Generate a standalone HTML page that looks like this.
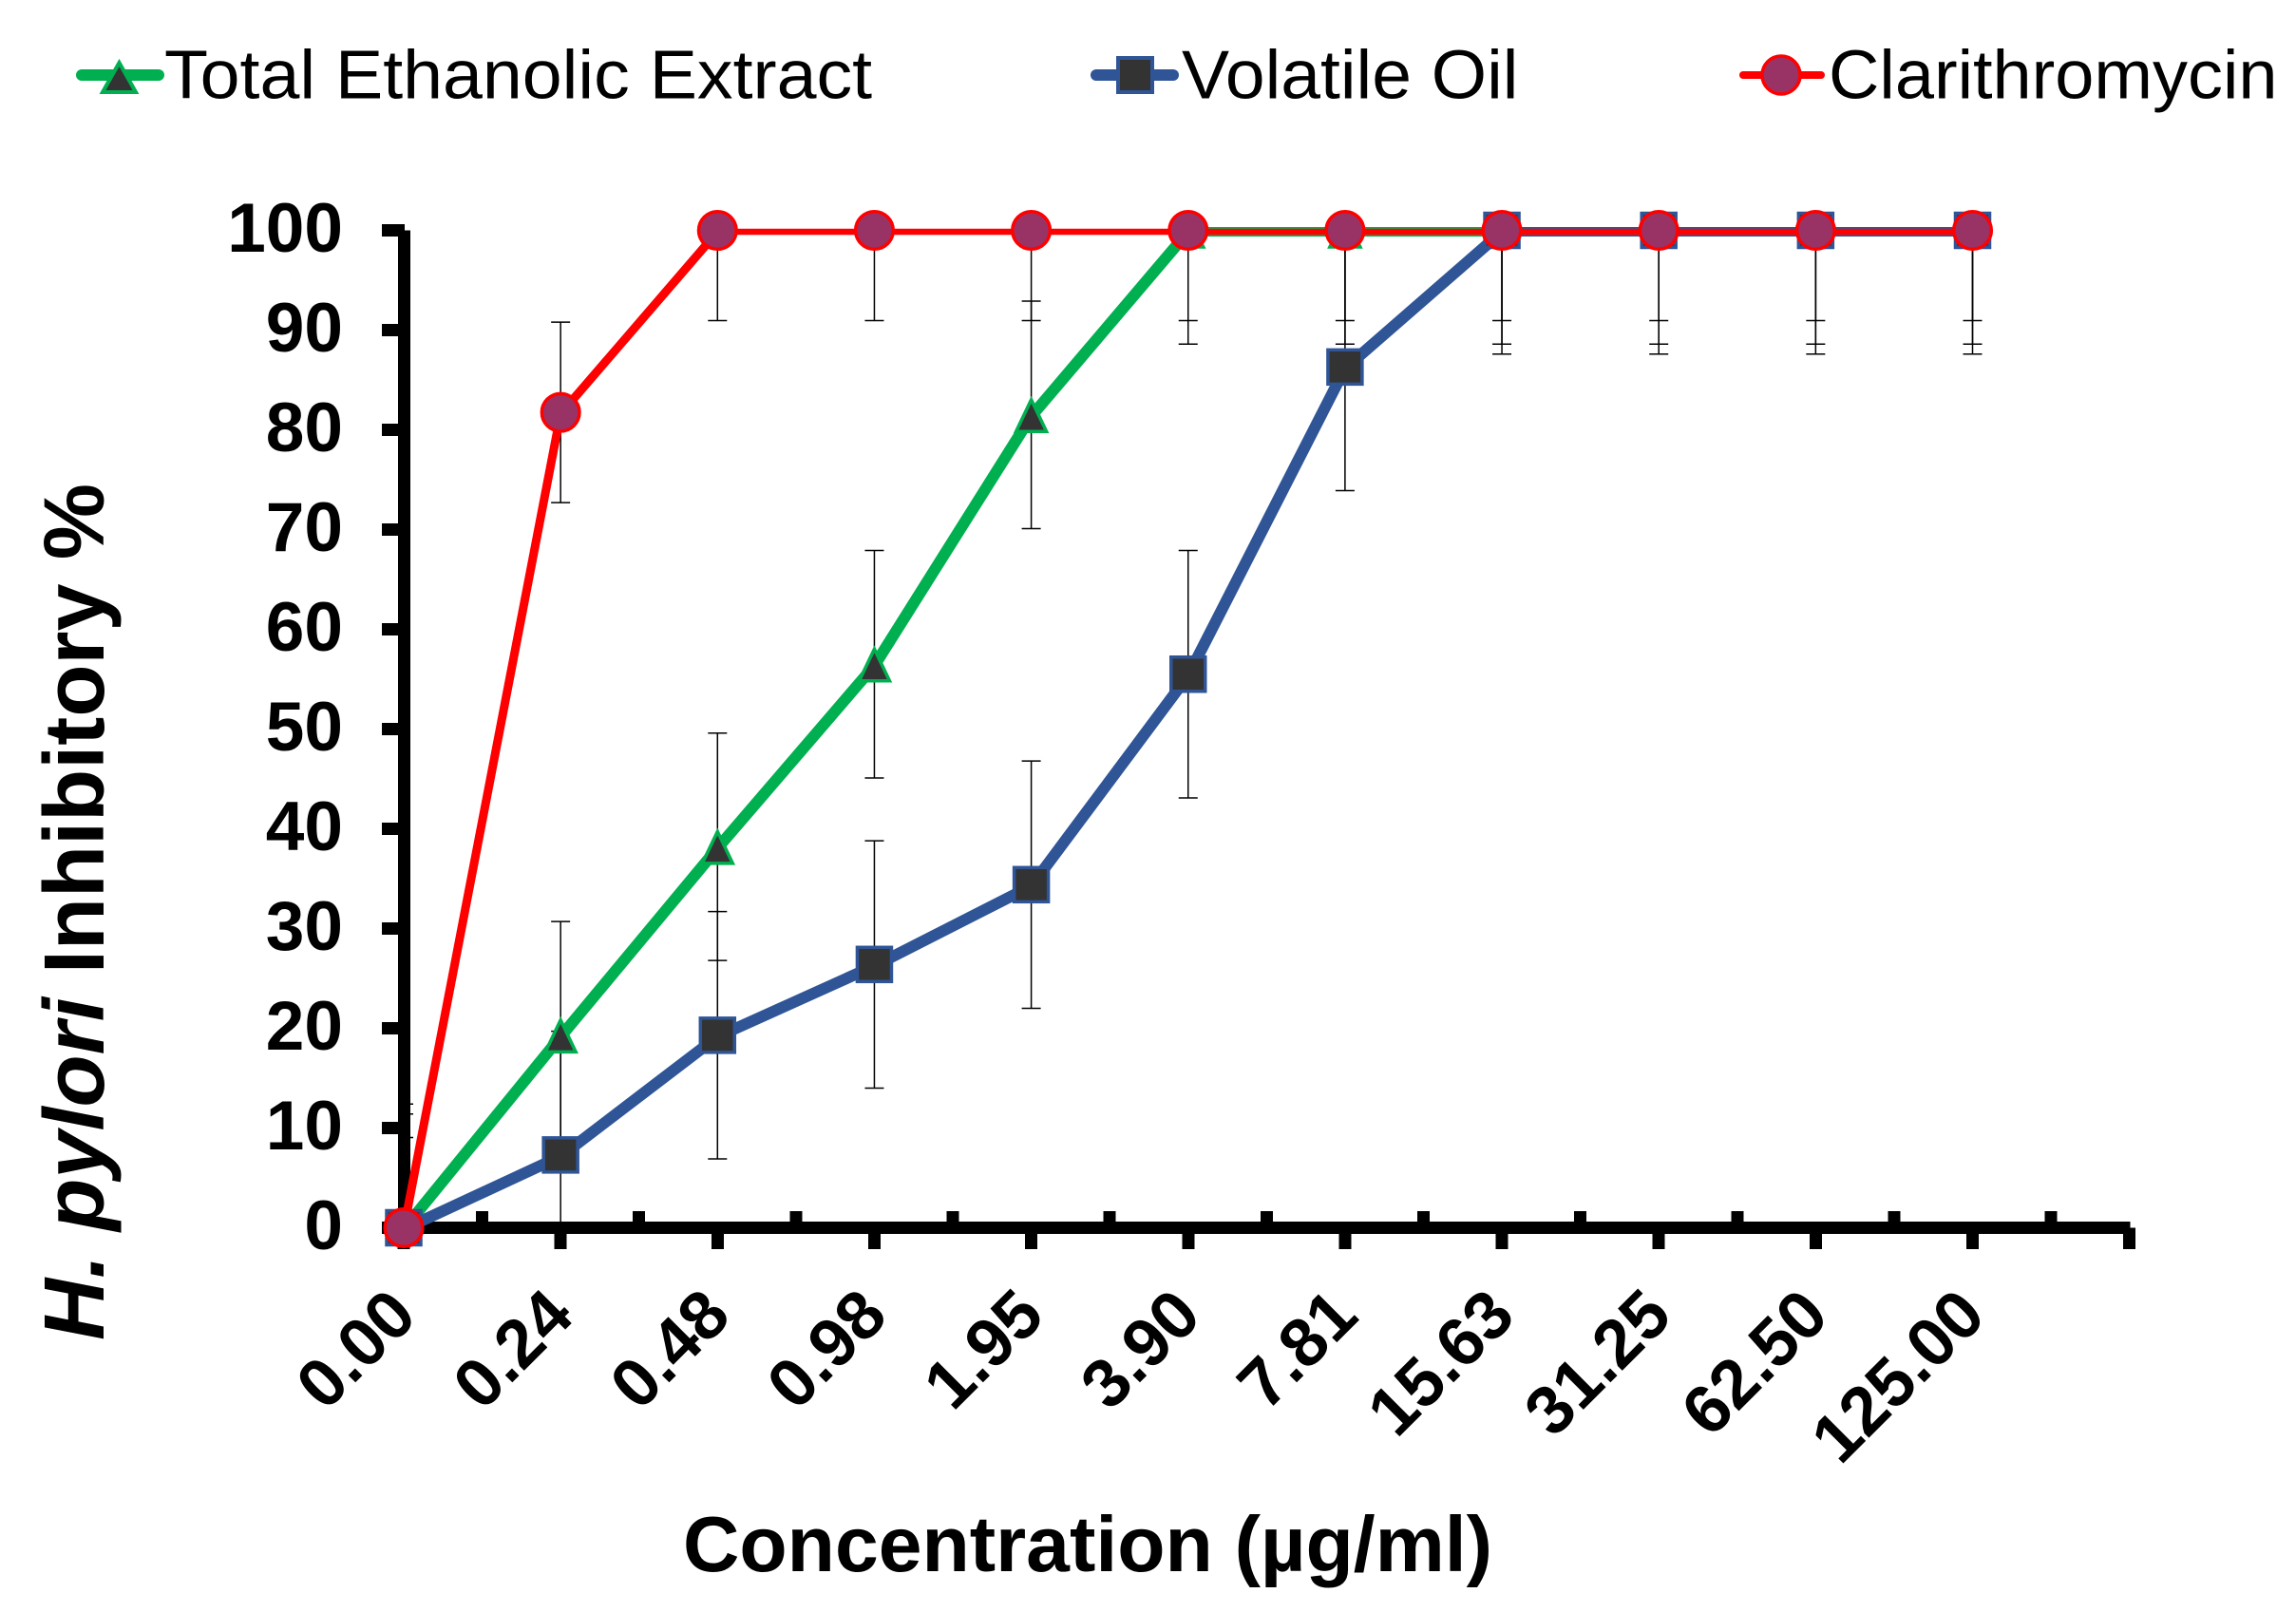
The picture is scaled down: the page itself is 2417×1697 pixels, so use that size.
<!DOCTYPE html>
<html lang="en">
<head>
<meta charset="utf-8">
<title>H. pylori Inhibitory Chart</title>
<style>
html,body{margin:0;padding:0;background:#fff;}
svg{display:block;}
text{font-family:"Liberation Sans",Arial,sans-serif;fill:#000;}
</style>
</head>
<body>
<svg id="chart" xmlns="http://www.w3.org/2000/svg" width="2417" height="1697" viewBox="0 0 2417 1697">
  <defs>
    <clipPath id="plot-clip"><rect x="420" y="200" width="1900" height="1100"/></clipPath>
  </defs>
  <rect x="0" y="0" width="2417" height="1697" fill="#ffffff"/>
  <g id="error-layer" clip-path="url(#plot-clip)"></g>
  <g id="axis-layer" shape-rendering="crispEdges"></g>
  <g id="series-layer"></g>
  <g id="label-layer"></g>

  <text x="1145" y="1654" text-anchor="middle" font-size="82.3" font-weight="700">Concentration (µg/ml)</text>
  <text transform="translate(109 1411) rotate(-90)" font-size="90.2" font-weight="700"><tspan font-style="italic">H. pylori</tspan> Inhibitory %</text>

  <g>
    <g>
      <line x1="86" y1="79" x2="167" y2="79" stroke="#00B050" stroke-width="12" stroke-linecap="round"/>
      <polygon points="125.5,66 143,97 108,97" fill="#333333" stroke="#00B050" stroke-width="4"/>
      <text transform="translate(173 103.5) scale(1.039 1)" font-size="72.5">Total Ethanolic Extract</text>
    </g>
    <g>
      <line x1="1154" y1="79" x2="1235" y2="79" stroke="#2F5597" stroke-width="12" stroke-linecap="round"/>
      <rect x="1177" y="61" width="36" height="36" fill="#333333" stroke="#2F5597" stroke-width="4"/>
      <text transform="translate(1244 103.5) scale(1.035 1)" font-size="72.5">Volatile Oil</text>
    </g>
    <g>
      <line x1="1835" y1="79" x2="1917" y2="79" stroke="#FF0000" stroke-width="8" stroke-linecap="round"/>
      <circle cx="1875" cy="79" r="20" fill="#993366" stroke="#FF0000" stroke-width="3.5"/>
      <text transform="translate(1925 103.5) scale(1.02 1)" font-size="72.5">Clarithromycin</text>
    </g>
  </g>
</svg>
<script>
var categories = ["0.00","0.24","0.48","0.98","1.95","3.90","7.81","15.63","31.25","62.50","125.00"];
var yTickLabels = [0,10,20,30,40,50,60,70,80,90,100];
var totalEthanolicExtract = [0,19.3,38.2,56.5,81.5,100,100,100,100,100,100];
var volatileOil = [0,7.3,19.3,26.4,34.4,55.5,86.3,100,100,100,100];
var clarithromycin = [0,81.75,100,100,100,100,100,100,100,100,100];
var totalEthanolicError = [11.4,11.4,11.4,11.4,11.4,11.4,11.4,11.4,11.4,11.4,11.4];
var volatileOilError = [12.4,12.4,12.4,12.4,12.4,12.4,12.4,12.4,12.4,12.4,12.4];
var clarithromycinError = [9.05,9.05,9.05,9.05,9.05,9.05,9.05,9.05,9.05,9.05,9.05];

var NS = 'http://www.w3.org/2000/svg';
function xAt(i){ return 425 + 165.15 * i; }
function yAt(v){ return 1292.5 - 10.5 * v; }
function make(tag, attrs, parent){
  var el = document.createElementNS(NS, tag);
  for (var k in attrs) el.setAttribute(k, attrs[k]);
  parent.appendChild(el);
  return el;
}
var errorLayer = document.getElementById('error-layer');
var axisLayer = document.getElementById('axis-layer');
var seriesLayer = document.getElementById('series-layer');
var labelLayer = document.getElementById('label-layer');

function drawErrors(values, errors, slug){
  values.forEach(function(v, i){
    var hi = v + errors[i], lo = v - errors[i];
    var top = Math.min(hi, 100), bottom = Math.max(lo, 0);
    var g = make('g', {stroke:'#000000','stroke-width':1.5}, errorLayer);
    
    
    make('line', {x1:xAt(i),x2:xAt(i),y1:yAt(top),y2:yAt(bottom)}, g);
    if (hi <= 100) make('line', {x1:xAt(i)-10,x2:xAt(i)+10,y1:yAt(hi),y2:yAt(hi)}, g);
    if (lo >= 0) make('line', {x1:xAt(i)-10,x2:xAt(i)+10,y1:yAt(lo),y2:yAt(lo)}, g);
  });
}
drawErrors(totalEthanolicExtract, totalEthanolicError, 'total-ethanolic');
drawErrors(volatileOil, volatileOilError, 'volatile-oil');
drawErrors(clarithromycin, clarithromycinError, 'clarithromycin');

/* axes */
var yAxisLine = make('rect', {x:419,y:yAt(100),width:13,height:yAt(0)-yAt(100)+6.5,fill:'#000'}, axisLayer);


var xAxisLine = make('rect', {x:419,y:yAt(0)-6.5,width:xAt(11)-xAt(0)+7,height:13,fill:'#000'}, axisLayer);



yTickLabels.forEach(function(t){
  var tick = make('rect', {x:xAt(0)-23,y:yAt(t)-6.5,width:t === 100 ? 24 : 18,height:13,fill:'#000'}, axisLayer);
  
  
  var label = make('text', {x:361,y:yAt(t)+22.5,'text-anchor':'end','font-size':73,'font-weight':700}, labelLayer);
  
  
  label.textContent = t;
});
for (var m = 0; m <= categories.length; m++){
  var major = make('rect', {x:xAt(m)-6.5,y:yAt(0),width:13,height:22.5,fill:'#000'}, axisLayer);
  
  
  if (m < categories.length){
    var minor = make('rect', {x:xAt(m+0.5)-6.5,y:1275,width:13,height:12,fill:'#000'}, axisLayer);
    
    
  }
}
categories.forEach(function(c, i){
  var lx = xAt(i) + 16.5, ly = 1388;
  var label = make('text', {transform:'translate(' + lx + ' ' + ly + ') rotate(-45)','text-anchor':'end','font-size':72,'font-weight':700}, labelLayer);
  
  
  label.textContent = c;
});

/* series: each segment is drawn separately because sloped strokes are heavier than flat ones in the reference */
function drawLine(values, color, slopedWidth, flatWidth, slug){
  for (var i = 0; i < values.length - 1; i++){
    var flat = values[i] === values[i + 1];
    var seg = make('line', {x1:xAt(i),y1:yAt(values[i])+1.5,x2:xAt(i+1),y2:yAt(values[i+1])+1.5,stroke:color,'stroke-width':flat ? flatWidth : slopedWidth}, seriesLayer);
    
    
  }
}
function triangle(cx, cy){
  return cx + ',' + (cy - 16) + ' ' + (cx + 16) + ',' + (cy + 17.5) + ' ' + (cx - 16) + ',' + (cy + 17.5);
}
drawLine(totalEthanolicExtract, '#00B050', 12, 10, 'total-ethanolic');
totalEthanolicExtract.forEach(function(v, i){
  var p = make('polygon', {points:triangle(xAt(i), yAt(v)),fill:'#333333',stroke:'#00B050','stroke-width':3.5}, seriesLayer);
  
  
});
drawLine(volatileOil, '#2F5597', 12, 10, 'volatile-oil');
volatileOil.forEach(function(v, i){
  var p = make('rect', {x:xAt(i)-18,y:yAt(v)-18,width:36,height:36,fill:'#333333',stroke:'#2F5597','stroke-width':3.5}, seriesLayer);
  
  
});
drawLine(clarithromycin, '#FF0000', 9, 6.5, 'clarithromycin');
clarithromycin.forEach(function(v, i){
  var p = make('circle', {cx:xAt(i),cy:yAt(v),r:19.8,fill:'#993366',stroke:'#FF0000','stroke-width':3.5}, seriesLayer);
  
  
});
</script>
</body>
</html>
